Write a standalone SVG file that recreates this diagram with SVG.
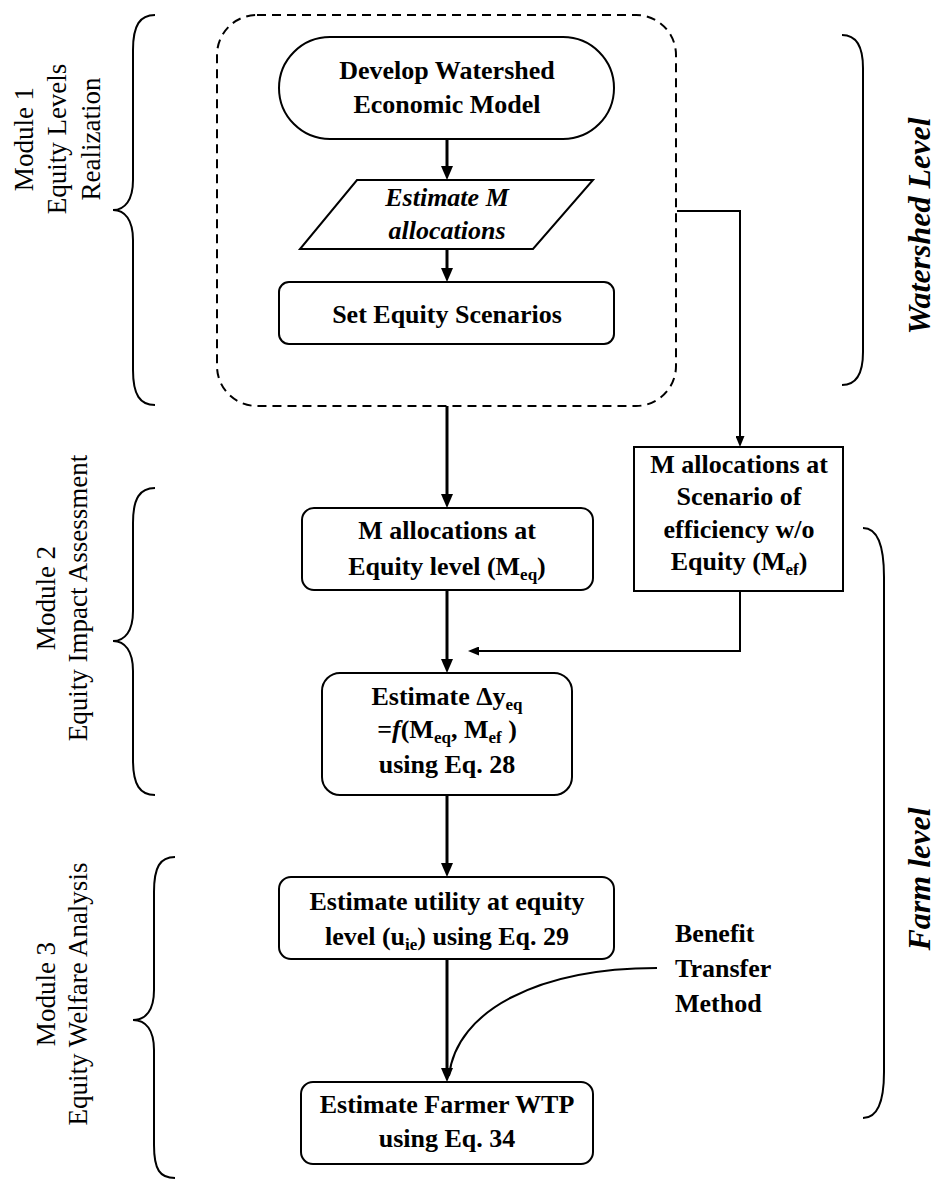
<svg xmlns="http://www.w3.org/2000/svg" width="940" height="1180" viewBox="0 0 940 1180">
  <style>
    .box { fill: #fff; stroke: #000; stroke-width: 2; }
    .dash { fill: none; stroke: #000; stroke-width: 2; stroke-dasharray: 9 6; }
    .brace { fill: none; stroke: #000; stroke-width: 2; }
    .main { fill: none; stroke: #000; stroke-width: 3; }
    .thin { fill: none; stroke: #000; stroke-width: 2; }
    .t { font-family: "Liberation Serif", "Times New Roman", serif; font-size: 26px; font-weight: bold; fill: #000; text-anchor: middle; }
    .it { font-style: italic; }
    .sub { font-size: 17px; }
    .mod { font-family: "Liberation Serif", "Times New Roman", serif; font-size: 27px; fill: #000; text-anchor: middle; }
    .lvl { font-family: "Liberation Serif", "Times New Roman", serif; font-size: 32px; font-weight: bold; font-style: italic; fill: #000; text-anchor: middle; }
  </style>
  <defs>
    <marker id="ah" markerUnits="userSpaceOnUse" markerWidth="14" markerHeight="12" viewBox="0 0 14 12" refX="3" refY="6" orient="auto">
      <path d="M0,0 L14,6 L0,12 z" fill="#000"/>
    </marker>
    <marker id="ahs" markerUnits="userSpaceOnUse" markerWidth="11" markerHeight="9" viewBox="0 0 11 9" refX="2" refY="4.5" orient="auto">
      <path d="M0,0 L11,4.5 L0,9 z" fill="#000"/>
    </marker>
  </defs>

  <!-- module braces and labels -->
  <g id="module1">
    <path class="brace" d="M155,15 C140,15 133,25 133,50 L133,180 C133,200 125,210 113,210 C125,210 133,220 133,240 L133,370 C133,395 140,405 155,405"/>
    <g transform="translate(0,139) rotate(-90)">
      <text class="mod" x="0" y="33">Module 1</text>
      <text class="mod" x="0" y="66">Equity Levels</text>
      <text class="mod" x="0" y="100">Realization</text>
    </g>
  </g>
  <g id="module2">
    <path class="brace" d="M155,488 C140,488 133,498 133,523 L133,611 C133,631 125,641 113,641 C125,641 133,651 133,671 L133,760 C133,785 140,795 155,795"/>
    <g transform="translate(0,598) rotate(-90)">
      <text class="mod" x="0" y="55">Module 2</text>
      <text class="mod" x="0" y="87">Equity Impact Assessment</text>
    </g>
  </g>
  <g id="module3">
    <path class="brace" d="M175,857 C160,857 154,867 154,892 L154,990 C154,1010 146,1020 133,1020 C146,1020 154,1030 154,1050 L154,1145 C154,1170 160,1178 175,1178"/>
    <g transform="translate(0,994) rotate(-90)">
      <text class="mod" x="0" y="55">Module 3</text>
      <text class="mod" x="0" y="87">Equity Welfare Analysis</text>
    </g>
  </g>

  <!-- level brackets -->
  <g id="watershed-level">
    <path class="brace" d="M842,35 C856,35 863,45 863,68 L863,352 C863,375 856,385 842,385"/>
    <text class="lvl" transform="translate(930,226) rotate(-90)">Watershed Level</text>
  </g>
  <g id="farm-level">
    <path class="brace" d="M863,528 C877,528 884,545 884,577 L884,1072 C884,1102 877,1118 863,1118"/>
    <text class="lvl" transform="translate(930,879) rotate(-90)">Farm level</text>
  </g>

  <!-- connectors -->
  <g id="connectors">
    <path class="main" d="M447,139 V169" marker-end="url(#ah)"/>
    <path class="main" d="M447,249 V271" marker-end="url(#ah)"/>
    <path class="main" d="M447,406 V497" marker-end="url(#ah)"/>
    <path class="thin" d="M677,211 H740 V438" marker-end="url(#ahs)"/>
    <path class="thin" d="M740,591 V651 H477" marker-end="url(#ahs)"/>
    <path class="main" d="M447,590 V662" marker-end="url(#ah)"/>
    <path class="main" d="M447,795 V866" marker-end="url(#ah)"/>
    <path class="main" d="M447,959 V1071" marker-end="url(#ah)"/>
    <path class="thin" d="M657,968 C540,968 456,1010 449,1076"/>
  </g>

  <!-- module 1 group boundary -->
  <g id="module1-frame">
    <rect class="dash" x="217" y="15" width="459" height="391" rx="40"/>
  </g>

  <g id="develop-model">
    <rect class="box" x="279" y="37" width="335" height="102" rx="51"/>
    <text class="t" x="447" y="79">Develop Watershed</text>
    <text class="t" x="447" y="113">Economic Model</text>
  </g>

  <g id="estimate-allocations">
    <polygon class="box" points="357,180 593,180 533,249 300,249"/>
    <text class="t it" x="447" y="206">Estimate M</text>
    <text class="t it" x="447" y="239">allocations</text>
  </g>

  <g id="set-scenarios">
    <rect class="box" x="279" y="282" width="335" height="62" rx="10"/>
    <text class="t" x="447" y="323">Set Equity Scenarios</text>
  </g>

  <g id="alloc-equity">
    <rect class="box" x="302" y="508" width="291" height="82" rx="12"/>
    <text class="t" x="447" y="539">M allocations at</text>
    <text class="t" x="447" y="575">Equity level (M<tspan class="sub" dy="5">eq</tspan><tspan dy="-5">)</tspan></text>
  </g>

  <g id="alloc-efficiency">
    <rect class="box" x="634" y="447" width="209" height="144"/>
    <text class="t" x="739" y="473">M allocations at</text>
    <text class="t" x="739" y="505">Scenario of</text>
    <text class="t" x="739" y="538">efficiency w/o</text>
    <text class="t" x="739" y="570">Equity (M<tspan class="sub" dy="5">ef</tspan><tspan dy="-5">)</tspan></text>
  </g>

  <g id="estimate-dy">
    <rect class="box" x="322" y="673" width="250" height="122" rx="18"/>
    <text class="t" x="447" y="705">Estimate Δy<tspan class="sub" dy="5">eq</tspan></text>
    <text class="t" x="447" y="738">=<tspan class="it">f</tspan>(M<tspan class="sub" dy="5">eq</tspan><tspan dy="-5">, M</tspan><tspan class="sub" dy="5">ef</tspan><tspan dy="-5"> )</tspan></text>
    <text class="t" x="447" y="773">using Eq. 28</text>
  </g>

  <g id="estimate-utility">
    <rect class="box" x="279" y="877" width="335" height="82" rx="12"/>
    <text class="t" x="447" y="910">Estimate utility at equity</text>
    <text class="t" x="447" y="945">level (u<tspan class="sub" dy="5">ie</tspan><tspan dy="-5">) using Eq. 29</tspan></text>
  </g>

  <g id="estimate-wtp">
    <rect class="box" x="301" y="1082" width="292" height="82" rx="12"/>
    <text class="t" x="447" y="1113">Estimate Farmer WTP</text>
    <text class="t" x="447" y="1147">using Eq. 34</text>
  </g>

  <g id="benefit-transfer">
    <text class="t" x="675" y="942" style="text-anchor:start">Benefit</text>
    <text class="t" x="675" y="977" style="text-anchor:start">Transfer</text>
    <text class="t" x="675" y="1012" style="text-anchor:start">Method</text>
  </g>
</svg>
